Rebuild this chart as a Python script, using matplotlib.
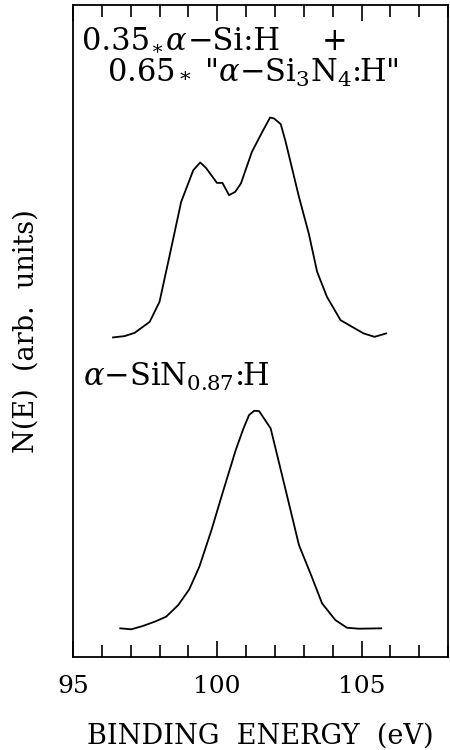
import matplotlib
matplotlib.use("Agg")
import matplotlib.pyplot as plt
from matplotlib.ticker import MultipleLocator

plt.rcParams['font.family'] = ['DejaVu Serif', 'DejaVu Sans']
plt.rcParams['mathtext.fontset'] = 'dejavuserif'

# top curve: 0.35*a-Si:H + 0.65*"a-Si3N4:H" (arb. units, already offset)
mix_energy = [96.39, 96.79, 97.14, 97.66, 98.00, 98.34, 98.75, 99.17, 99.41, 99.61,
              99.99, 100.18, 100.41, 100.62, 100.82, 101.20, 101.56, 101.83, 101.97,
              102.20, 102.37, 102.83, 103.17, 103.46, 103.80, 104.27, 104.67, 105.07,
              105.45, 105.85]
mix_counts = [319.7, 321, 324.3, 335.3, 355.3, 400.3, 455.3, 487, 494.7, 489.3,
              474.3, 474.3, 462, 465.3, 473.7, 505.3, 525.3, 539.7, 538.7,
              533, 515.3, 460.3, 423.7, 385.3, 360.3, 337, 330.3, 323.7,
              320.3, 323.7]

# bottom curve: a-SiN0.87:H
sin_energy = [96.64, 97.02, 97.42, 97.85, 98.23, 98.65, 99.03, 99.38, 99.80, 100.18,
              100.64, 100.90, 101.10, 101.28, 101.45, 101.85, 102.37, 102.83, 103.25,
              103.63, 104.09, 104.49, 104.90, 105.68]
sin_counts = [28.7, 27.7, 31, 35.5, 40.3, 52, 67.7, 90.3, 127, 163.7,
              207, 228, 242, 246.3, 246, 228.7, 167, 112, 82,
              53.7, 37, 29.3, 28.3, 28.7]

fig = plt.figure(figsize=(4.5, 7.5), dpi=100)
ax = fig.add_axes([0.162, 0.124, 0.834, 0.869])

ax.plot(mix_energy, mix_counts, color='black', lw=1.3)
ax.plot(sin_energy, sin_counts, color='black', lw=1.3)

ax.set_xlim(95, 108)
ax.set_ylim(0, 652)

ax.xaxis.set_major_locator(MultipleLocator(5))
ax.xaxis.set_minor_locator(MultipleLocator(1))
ax.tick_params(axis='x', which='both', direction='in', top=True, bottom=True,
               labelsize=18, pad=13)
ax.tick_params(axis='x', which='major', length=11.5, width=1.2)
ax.tick_params(axis='x', which='minor', length=8.5, width=1.2)
ax.set_yticks([])
for s in ax.spines.values():
    s.set_linewidth(1.3)

ax.set_xlabel('BINDING  ENERGY  (eV)', fontsize=19.5, labelpad=18)
ax.set_ylabel('N(E)  (arb.  units)', fontsize=19.5, labelpad=24)

# first line built from plain text pieces
t1 = ax.text(95.31, 607, '0.35', fontsize=22, va='baseline')
t2 = ax.annotate('\u2217', xy=(1, 0), xycoords=t1, xytext=(1, 0),
                 textcoords='offset points', fontsize=14, va='bottom', ha='left')
t3 = ax.annotate('\u03b1', xy=(1, 0), xycoords=(t2, t1), xytext=(1, 0),
                 textcoords='offset points', fontsize=22, style='italic',
                 va='bottom', ha='left')
ax.annotate('\u2212Si:H', xy=(1, 0), xycoords=t3, xytext=(1, 0),
            textcoords='offset points', fontsize=22, va='bottom', ha='left')
ax.text(103.62, 607, '+', fontsize=22, va='baseline')

ax.text(96.17, 575, r'0.65$_*$ "$\alpha$$-$Si$_3$N$_4$:H"', fontsize=22, va='baseline')
ax.text(95.34, 271, r'$\alpha$$-$SiN$_{0.87}$:H', fontsize=22, va='baseline')

fig.savefig('out.png', dpi=100)
